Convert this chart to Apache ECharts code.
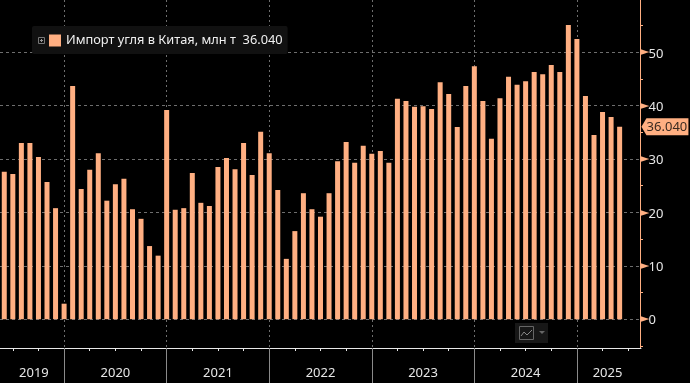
<!DOCTYPE html>
<html><head><meta charset="utf-8">
<style>html,body{margin:0;padding:0;background:#000}#c{width:690px;height:383px}</style>
<script src="https://cdn.jsdelivr.net/npm/echarts@6/dist/echarts.min.js"></script>
</head><body><div id="c"></div>
<script>
const seriesName = 'Импорт угля в Китая, млн т';
const months = [
 '2019-06','2019-07','2019-08','2019-09','2019-10','2019-11','2019-12',
 '2020-01','2020-02','2020-03','2020-04','2020-05','2020-06','2020-07','2020-08','2020-09','2020-10','2020-11','2020-12',
 '2021-01','2021-02','2021-03','2021-04','2021-05','2021-06','2021-07','2021-08','2021-09','2021-10','2021-11','2021-12',
 '2022-01','2022-02','2022-03','2022-04','2022-05','2022-06','2022-07','2022-08','2022-09','2022-10','2022-11','2022-12',
 '2023-01','2023-02','2023-03','2023-04','2023-05','2023-06','2023-07','2023-08','2023-09','2023-10','2023-11','2023-12',
 '2024-01','2024-02','2024-03','2024-04','2024-05','2024-06','2024-07','2024-08','2024-09','2024-10','2024-11','2024-12',
 '2025-01','2025-02','2025-03','2025-04','2025-05','2025-06','2025-07','2025-08'];
const values = [27.6,27.2,33.0,33.0,30.4,25.7,20.8,
 2.9,43.7,24.4,28.0,31.1,22.2,25.3,26.3,20.6,18.8,13.7,11.9,
 39.2,20.5,20.8,27.4,21.8,21.2,28.5,30.2,28.1,33.0,27.0,35.1,
 31.1,24.2,11.3,16.5,23.6,20.6,19.2,23.6,29.6,33.2,29.3,32.5,
 31.0,31.5,29.3,41.3,40.9,39.8,39.9,39.4,44.4,42.2,36.0,43.7,
 47.4,40.9,33.8,41.4,45.4,43.9,44.6,46.3,45.9,47.6,46.3,55.1,
 52.5,41.8,34.5,38.8,37.9,36.04];
const yLabelTicks = [0,10,20,30,40,50];
const yMinorTicks = [-5,5,15,25,35,45,55];
const yearLabelMonths = {'2019-09':'a','2020-07':'b','2021-07':'b','2022-07':'b','2023-07':'b','2024-07':'b','2025-04':'c'};

const COLOR='#FFAF82', GRID='#6e6e6e';
const lastIdx = values.length-1;
const lastVal = values[lastIdx];
const font='"Noto Sans","Open Sans",sans-serif';
const textColor='#e6e6e6';
const isQuarter=(i,v)=>['04','07','10'].includes(String(v).slice(5));
const isYear=(i,v)=>String(v).slice(5)==='01';

const chart=echarts.init(document.getElementById('c'),null,{renderer:'canvas'});
chart.setOption({
 backgroundColor:'#000',animation:false,
 grid:{left:-2.7,right:49,top:0,bottom:35},
 legend:{left:32,top:26,padding:[8,5,7,17],backgroundColor:'#111',borderRadius:2,
  itemWidth:12,itemHeight:12,icon:'rect',selectedMode:false,
  textStyle:{color:'#f0f0f0',fontSize:12.8,fontFamily:font},
  formatter:n=>n+'  '+lastVal.toFixed(3)},
 xAxis:[
  {type:'category',data:months,position:'bottom',boundaryGap:true,
   axisLine:{show:true,onZero:false,lineStyle:{color:'#e8e8e8',width:1}},
   axisTick:{show:true,interval:isQuarter,alignWithLabel:true,length:3,lineStyle:{color:'#e8e8e8'}},
   axisLabel:{show:false},splitLine:{show:false}},
  {type:'category',data:months,position:'bottom',boundaryGap:true,
   axisLine:{show:false,onZero:false},
   axisTick:{show:true,interval:isYear,alignWithLabel:true,length:35,lineStyle:{color:'#8a8a8a'}},
   axisLabel:{show:true,interval:(i,v)=>v in yearLabelMonths,margin:19,hideOverlap:false,
     formatter:v=>'{'+yearLabelMonths[v]+'|'+v.slice(0,4)+'}',
     rich:{a:{color:textColor,fontSize:13,fontFamily:font,padding:[0,0,0,8]},
           b:{color:textColor,fontSize:13,fontFamily:font},
           c:{color:textColor,fontSize:13,fontFamily:font,padding:[0,0,0,10]}}},
   splitLine:{show:true,interval:isYear,alignWithLabel:true,lineStyle:{color:GRID,type:[2,3],width:1}}}
 ],
 yAxis:[
  {type:'value',position:'right',offset:-1,min:-5.4,max:59.8,
   axisLine:{show:true,onZero:false,lineStyle:{color:COLOR}},
   axisTick:{show:true,customValues:yMinorTicks,length:3,lineStyle:{color:COLOR}},
   axisLabel:{show:false},splitLine:{show:false}},
  {type:'value',position:'right',offset:-1,min:-5.4,max:59.8,
   axisLine:{show:false,onZero:false},
   axisTick:{show:false,customValues:yLabelTicks},
   axisLabel:{show:true,customValues:yLabelTicks,margin:0,
     formatter:v=>'{t|►}{v|'+v+'}',
     rich:{t:{color:COLOR,fontSize:12,fontFamily:'DejaVu Sans',width:8.5},
           v:{color:textColor,fontSize:13,fontFamily:font,padding:[3,0,0,0]}}},
   splitLine:{show:true,lineStyle:{color:GRID,type:[3,3],width:1}}}
 ],
 series:[{name:seriesName,type:'bar',data:values,barWidth:5,xAxisIndex:0,yAxisIndex:0,
  itemStyle:{color:COLOR},z:3,
  markPoint:{silent:true,z:6,data:[{coord:[lastIdx,lastVal],
    symbol:'path://M0,8.5 L5,0 L47,0 L47,17 L5,17 Z',symbolSize:[47,17],symbolOffset:[45.3,0],
    itemStyle:{color:COLOR},
    label:{show:true,position:'inside',offset:[2,0],formatter:()=>lastVal.toFixed(3),color:'#3a2a20',fontSize:13,fontFamily:font}}]}
 }],
 graphic:[
  {type:'rect',shape:{x:38.5,y:37.5,width:6,height:6},style:{fill:'none',stroke:'#777'},z:10},
  {type:'line',shape:{x1:40,y1:40.5,x2:43,y2:40.5},style:{stroke:'#999'},z:10},
  {type:'line',shape:{x1:41.5,y1:39,x2:41.5,y2:42},style:{stroke:'#999'},z:10},
  {type:'rect',shape:{x:515,y:323,width:33,height:20},style:{fill:'#171717'},z:10},
  {type:'rect',shape:{x:519.5,y:326.5,width:14,height:13},style:{fill:'none',stroke:'#666'},z:11},
  {type:'polyline',shape:{points:[[521,336],[524,332],[527,335],[532,330]]},style:{fill:'none',stroke:'#888'},z:11},
  {type:'polygon',shape:{points:[[539,331],[545,331],[542,334]]},style:{fill:'#666'},z:11}
 ]
});
</script></body></html>
